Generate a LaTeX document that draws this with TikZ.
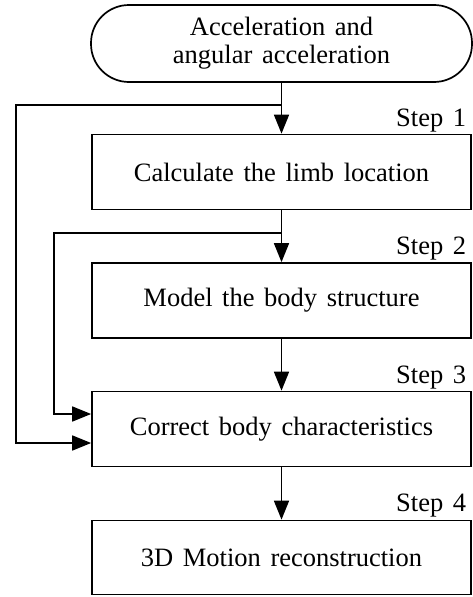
\documentclass[tikz,border=0pt]{standalone}
\usepackage{fontspec}
\setmainfont{Liberation Serif}[WordSpace=1.45]
\usetikzlibrary{arrows.meta}
\begin{document}
\begin{tikzpicture}[x=1pt,y=-1pt,
  font=\fontsize{26.5}{28}\selectfont,
  line width=1.7pt,
  procbox/.style={draw, rectangle, minimum width=379pt, minimum height=75pt, inner sep=0pt, align=center},
  termbox/.style={draw, rectangle, rounded corners=38pt, minimum width=381pt, minimum height=77pt, inner sep=0pt, align=center},
  steplabel/.style={anchor=base east, inner sep=0pt},
  flow/.style={-{Triangle[length=19pt,width=15pt]}}]
\useasboundingbox (0,0) rectangle (473,597);
\node[termbox] (start) at (281.5,43.5) {Acceleration and\\angular acceleration};
\node[procbox] (b1) at (281.5,172) {Calculate the limb location};
\node[procbox] (b2) at (281.5,300.5) {Model the body structure};
\node[procbox] (b3) at (281.5,429) {Correct body characteristics};
\node[procbox, minimum height=74pt] (b4) at (281.5,557.5) {3D Motion reconstruction};
\node[steplabel] (s1) at (467,126) {Step 1};
\node[steplabel] (s2) at (467,254) {Step 2};
\node[steplabel] (s3) at (467,383) {Step 3};
\node[steplabel] (s4) at (467,511) {Step 4};
\coordinate (j1) at (281.5,105);
\coordinate (j2) at (281.5,233);
\coordinate (o1) at (16,105);
\coordinate (o2) at (16,443);
\coordinate (i1) at (54,233);
\coordinate (i2) at (54,414);
\draw[flow] (start.south) -- (b1.north);
\draw[flow] (b1.south) -- (b2.north);
\draw[flow] (b2.south) -- (b3.north);
\draw[flow] (b3.south) -- (b4.north);
\draw[flow] (j1) -- (o1) -- (o2) -- (o2 -| b3.west);
\draw[flow] (j2) -- (i1) -- (i2) -- (i2 -| b3.west);
\end{tikzpicture}
\end{document}
